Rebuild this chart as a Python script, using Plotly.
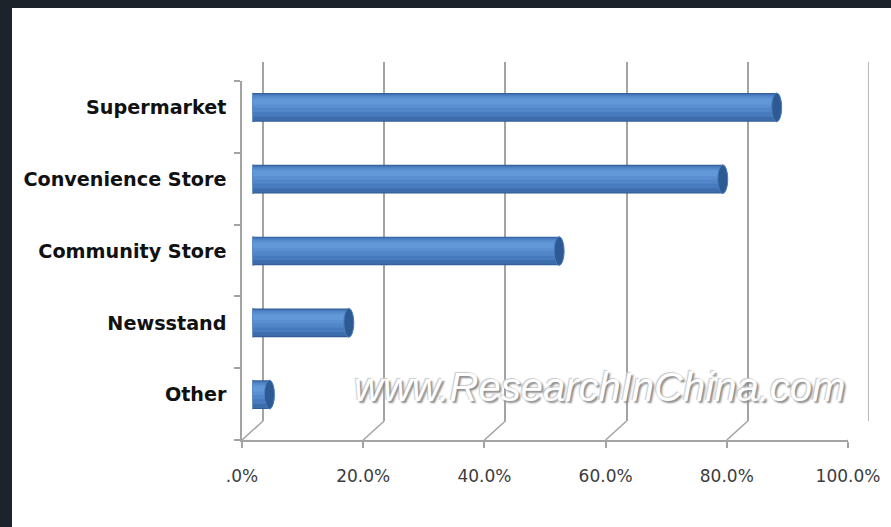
import plotly.graph_objects as go

categories = ["Supermarket", "Convenience Store", "Community Store", "Newsstand", "Other"]
shares = [86.5, 77.6, 50.6, 15.9, 2.8]
tick_values = [0, 20, 40, 60, 80, 100]
tick_labels = [".0%", "20.0%", "40.0%", "60.0%", "80.0%", "100.0%"]

W, H = 891, 527
L, R, T, B = 242, 22, 62, 87
PW = W - L - R
PH = H - T - B
DX, DY = 21, 19          # 3D depth offset in pixels
GRID = "#a3a3a3"

pos = list(range(len(categories)))
n = len(categories)

fig = go.Figure()

# empty trace so the back-wall subplot (x, y) is created and its grid drawn
fig.add_trace(go.Scatter(x=[], y=[], xaxis="x", yaxis="y", hoverinfo="skip",
                         showlegend=False, mode="markers"))
# empty trace on the front floor/wall subplot
fig.add_trace(go.Scatter(x=[], y=[], xaxis="x2", yaxis="y2", hoverinfo="skip",
                         showlegend=False, mode="markers"))

# cylinder-like bars: stacked layers of decreasing width give a shaded look
layers = [
    (-0.200, 0.400, "#2f5d96"),
    (-0.190, 0.375, "#3c6daa"),
    (-0.180, 0.310, "#477bbd"),
    (-0.165, 0.230, "#5286c8"),
    (-0.145, 0.150, "#5a8fd1"),
    (-0.120, 0.080, "#6298d7"),
]
for off, wd, col in layers:
    fig.add_trace(go.Bar(
        x=shares, y=pos, orientation="h", base=0, width=wd, offset=off,
        marker=dict(color=col, line=dict(width=0)),
        xaxis="x3", yaxis="y3", hoverinfo="skip", showlegend=False,
    ))

shapes = []
# rounded left ends and dark right end caps, anchored at the data values
for i, v in zip(pos, shares):
    shapes.append(dict(type="circle", xref="x3", yref="y3", xsizemode="pixel",
                       xanchor=0, x0=-5, x1=5, y0=i - 0.2, y1=i + 0.2,
                       fillcolor="#4377b8", line=dict(color="#2f5d96", width=1),
                       layer="between"))
    shapes.append(dict(type="circle", xref="x3", yref="y3", xsizemode="pixel",
                       xanchor=v, x0=-5, x1=5, y0=i - 0.2, y1=i + 0.2,
                       fillcolor="#2d5a93", line=dict(color="#4a7fc0", width=1),
                       layer="above"))

# last back-wall gridline (at the edge of the range, not drawn by the grid)
shapes.append(dict(type="line", xref="x", yref="y domain",
                   x0=tick_values[-1], x1=tick_values[-1], y0=0, y1=1,
                   line=dict(color=GRID, width=1.5), layer="below"))

# floor diagonals from front ticks to back gridlines
for v in tick_values:
    shapes.append(dict(type="line", xref="x2", yref="y2",
                       xsizemode="pixel", xanchor=v, x0=0, x1=DX,
                       ysizemode="pixel", yanchor=n - 0.5, y0=0, y1=DY,
                       line=dict(color=GRID, width=1.5), layer="above"))
# top-left diagonal of the side wall
shapes.append(dict(type="line", xref="x2", yref="y2",
                   xsizemode="pixel", xanchor=0, x0=0, x1=DX,
                   ysizemode="pixel", yanchor=-0.5, y0=0, y1=DY,
                   line=dict(color=GRID, width=1.5), layer="above"))

# dark frame strips around the picture
fx = lambda px: (px - L) / PW
fy = lambda py: (H - B - py) / PH
DARK = "#1d232b"
shapes.append(dict(type="rect", xref="paper", yref="paper",
                   x0=fx(0), x1=fx(12), y0=fy(H), y1=fy(0),
                   fillcolor=DARK, line=dict(width=0), layer="above"))
shapes.append(dict(type="rect", xref="paper", yref="paper",
                   x0=fx(0), x1=fx(W), y0=fy(8), y1=fy(0),
                   fillcolor=DARK, line=dict(width=0), layer="above"))

xf = (PW - DX) / PW
yf = (PH - DY) / PH
fig.update_layout(
    width=W, height=H, autosize=False,
    margin=dict(l=L, r=R, t=T, b=B, pad=0),
    paper_bgcolor="white", plot_bgcolor="rgba(0,0,0,0)",
    barmode="overlay", showlegend=False,
    shapes=shapes,
    # back wall
    xaxis=dict(domain=[DX / PW, 1], range=[0, 100], anchor="y",
               tickvals=tick_values, showticklabels=False, ticks="",
               showgrid=True, gridcolor=GRID, gridwidth=1.5,
               zeroline=True, zerolinecolor=GRID, zerolinewidth=1.5,
               showline=False, fixedrange=True),
    yaxis=dict(domain=[DY / PH, 1], range=[n - 0.5, -0.5], anchor="x",
               showgrid=False, zeroline=False, showline=False,
               showticklabels=False, ticks="", fixedrange=True),
    # front floor / wall
    xaxis2=dict(domain=[0, xf], range=[0, 100], anchor="y2",
                tickvals=tick_values, ticktext=tick_labels,
                ticks="outside", ticklen=6, tickwidth=1.5, tickcolor=GRID,
                showline=True, linecolor=GRID, linewidth=1.5,
                showgrid=False, zeroline=False, ticklabelstandoff=14,
                tickfont=dict(family="DejaVu Sans", size=17, color="#3c3c3c"),
                automargin=False, fixedrange=True),
    yaxis2=dict(domain=[0, yf], range=[n - 0.5, -0.5], anchor="x2",
                tickvals=[k - 0.5 for k in range(n + 1)], showticklabels=False,
                ticks="outside", ticklen=6, tickwidth=1.5, tickcolor=GRID,
                showline=True, linecolor=GRID, linewidth=1.5,
                showgrid=False, zeroline=False, automargin=False, fixedrange=True),
    # bars at mid depth
    xaxis3=dict(domain=[DX / PW / 2, (1 + xf) / 2], range=[0, 100], anchor="y3",
                showgrid=False, zeroline=False, showline=False,
                showticklabels=False, ticks="", fixedrange=True),
    yaxis3=dict(domain=[DY / PH / 2, (1 + yf) / 2], range=[n - 0.5, -0.5], anchor="x3",
                tickvals=pos, ticktext=categories, ticks="",
                showgrid=False, zeroline=False, showline=False,
                ticklabelstandoff=25, automargin=False,
                tickfont=dict(family="DejaVu Sans", size=19.2, color="#111111", weight="bold"),
                fixedrange=True),
    annotations=[dict(
        xref="paper", yref="paper", x=fx(599), y=fy(387),
        xanchor="center", yanchor="middle", showarrow=False,
        text="www.ResearchInChina.com",
        font=dict(family="Liberation Sans", size=40, color="white", style="italic",
                  shadow="2px 2px 2px #8a8a8a, -1px -1px 1px #c8c8c8"),
    )],
)

fig.write_html("out.html", config={"displayModeBar": False},
               post_script="document.body.style.margin='0';")
